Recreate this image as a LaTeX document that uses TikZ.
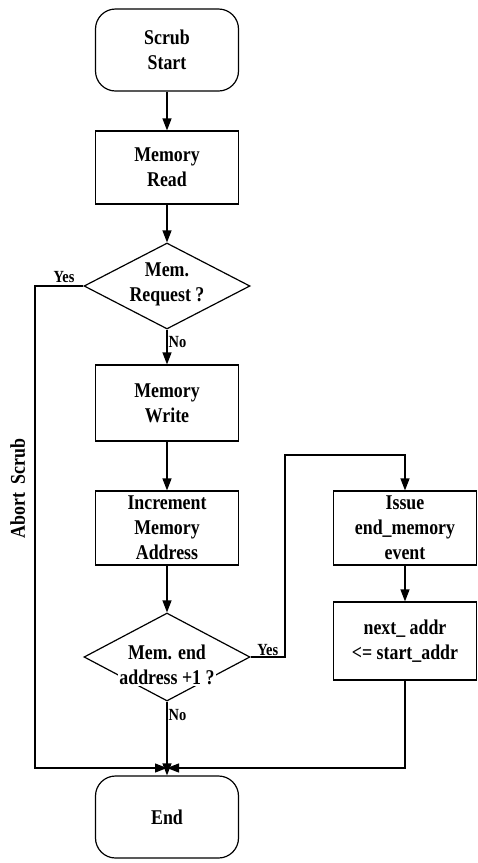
\documentclass[tikz,border=0pt]{standalone}
\usepackage{fontspec}
\setmainfont{Liberation Serif}[FakeStretch=0.85]
\usetikzlibrary{shapes.geometric,arrows.meta}
\begin{document}
\begin{tikzpicture}[x=1pt,y=-1pt,line width=1.2pt,
  font=\bfseries\fontsize{21}{25}\selectfont,
  term/.style={draw,rounded corners=20pt,minimum width=143pt,minimum height=#1,align=center},
  term/.default=82pt,
  box/.style={draw,minimum width=143pt,minimum height=#1,align=center},
  box/.default=76pt,
  test/.style={draw,diamond,inner sep=0pt,minimum width=166pt,minimum height=#1},
  test/.default=86pt,
  lbl/.style={font=\bfseries\fontsize{17}{18}\selectfont,inner sep=1pt},
  arr/.style={-{Triangle[length=12pt,width=9pt]}}]
        \useasboundingbox (0,0) rectangle (478,863);
        \node [term] (start) at (167,50) {Scrub\\Start};
        \node [box=73pt] (read) at (167,167.5) {Memory\\Read};
        \node [test] (req) at (167,286) {};
        \node [align=center] (reqt) at (167,284) {Mem.\\Request ?};
        \node [box] (write) at (167,403) {Memory\\Write};
        \node [box=74pt] (inc) at (167,528) {Increment\\Memory\\Address};
        \node [test=88pt] (endq) at (167,657) {};
        \node [fill=white,inner sep=1pt,align=center] (endqt) at (167,665) {Mem. end\\address +1 ?};
        \node [box=74pt] (issue) at (405,528) {Issue\\end\_memory\\event};
        \node [box=78pt] (next) at (405,641) {next\_ addr\\<= start\_addr};
        \node [term] (stop) at (167,817) {End};
        \coordinate (m) at (167,768);
        \coordinate (ab) at (35,768);
        \coordinate (up) at (285,455);
        \draw [arr] (start) -- (read);
        \draw [arr] (read) -- (req);
        \draw [arr] (req) -- node [lbl,right,pos=0.35] {No} (write);
        \draw [arr] (write) -- (inc);
        \draw [arr] (inc) -- (endq);
        \draw [arr] (endq) -- node [lbl,right,pos=0.18] {No} (stop);
        \draw [arr] (req.west) -- node [lbl,above,pos=0.4,yshift=2pt] {Yes} (req.west -| ab) -- node [rotate=90,pos=0.42,above=6pt] {Abort~~Scrub} (ab) -- (m);
        \draw [arr] (endq.east) -- node [lbl,above,pos=0.5] {Yes} (endq.east -| up) -- (up) -| (issue.north);
        \draw [arr] (issue) -- (next);
        \draw [arr] (next.south) |- (m);
    \end{tikzpicture}
\end{document}
